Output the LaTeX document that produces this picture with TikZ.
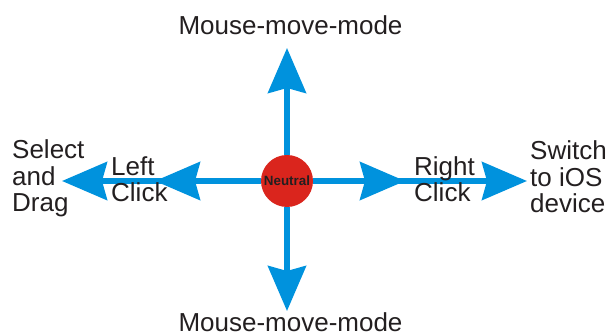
\documentclass[tikz,border=0pt]{standalone}
\usepackage{fontspec}
\setmainfont{Liberation Sans}
\usetikzlibrary{arrows.meta}
\definecolor{arrblue}{RGB}{0,146,221}
\definecolor{neured}{RGB}{218,37,29}
\definecolor{txt}{RGB}{35,31,32}
\tikzset{
  arr/.style={draw=arrblue, line width=5.5pt, -{Stealth[length=45pt,width=38pt,inset=5pt]}, arrblue},
  lbl/.style={inner sep=0pt, text=txt, font=\fontsize{26}{26.5}\selectfont, align=left},
  hub/.style={circle, fill=neured, minimum size=52pt, inner sep=0pt, text=txt, font=\fontsize{13.4}{14}\selectfont\bfseries}
}
\begin{document}
\begin{tikzpicture}[x=1pt,y=-1pt]
\useasboundingbox (0,0) rectangle (608,336);
\node[hub] (n) at (287,181) {Neutral};
\coordinate (upTip) at (287,48);
\coordinate (downTip) at (287,311);
\coordinate (leftOut) at (62,181);
\coordinate (leftIn) at (155,181);
\coordinate (rightIn) at (405,181);
\coordinate (rightOut) at (527,181);
\draw[arr] (n) -- (upTip);
\draw[arr] (n) -- (downTip);
\draw[arr] (n) -- (leftOut);
\draw[arr] (n) -- (leftIn);
\draw[arr] (n) -- (rightOut);
\draw[arr] (n) -- (rightIn);
\node[lbl, anchor=base] (top) at (290.5,35) {Mouse-move-mode};
\node[lbl, anchor=base] (bot) at (290.5,332) {Mouse-move-mode};
\node[lbl, anchor=base west] (sel) at (12,212) {Select\\and\\Drag};
\node[lbl, anchor=base west] (lc) at (111,202) {Left\\Click};
\node[lbl, anchor=base west] (rc) at (414,202) {Right\\Click};
\node[lbl, anchor=base west] (sw) at (530,213) {Switch\\to iOS\\device};
\end{tikzpicture}
\end{document}
